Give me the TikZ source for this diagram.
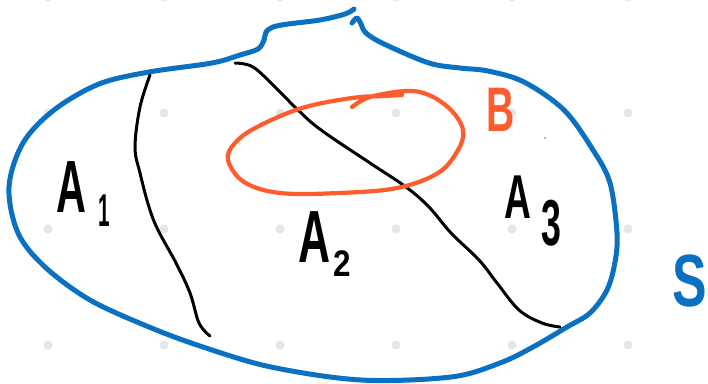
\documentclass[tikz,border=0pt]{standalone}
\usepackage{fontspec}
\setmainfont{Liberation Sans}
\definecolor{penblue}{HTML}{0A70C2}
\definecolor{penorange}{HTML}{FF5C2E}
\definecolor{griddot}{HTML}{E6E6E6}
\begin{document}
\begin{tikzpicture}[x=1pt,y=-1pt,
  blueline/.style={draw=penblue,line width=5pt,line cap=round,line join=round},
  blackline/.style={draw=black,line width=3pt,line cap=round,line join=round},
  orangeline/.style={draw=penorange,line width=4.2pt,line cap=round,line join=round},
  lbl/.style={inner sep=0pt,outer sep=0pt}]
\useasboundingbox[fill=white] (0,0) rectangle (708,383);
% grid dots
\foreach \gx in {48,164,280,396,512,628}
  \foreach \gy in {-3,113,229,345}
    \fill[griddot] (\gx,\gy) circle (4.6);
% outline S
\draw[blueline] plot[smooth,tension=0.55] coordinates {
  (352,23) (357,18) (361,24) (366,33) (384,44) (429,63) (460,68) (488,71)
  (524,82) (564,110) (593,150) (610,183) (617,233) (615,262) (607,290)
  (590,313) (567,327) (533,347) (500,363) (451,377) (361,380) (271,367)
  (203,347) (149,327) (90,300) (45,267) (18,233) (9,187) (23,143) (54,110)
  (99,84) (149,72) (212,63) (240,55) (258,49) (264,40) (266,32) (273,27)
  (288,24) (320,20) (345,14) (354,9)};
% partition lines
\draw[blackline] plot[smooth,tension=0.6] coordinates {
  (150,75) (140,107) (135,147) (140,173) (149,207) (158,230) (176,263)
  (190,293) (199,323) (210,336)};
\draw[blackline] plot[smooth,tension=0.6] coordinates {
  (235,63) (253,67) (275,87) (298,110) (321,130) (370,163) (406,187)
  (429,207) (451,233) (479,260) (497,283) (519,310) (542,323) (560,327)};
% event B
\draw[orangeline] plot[smooth,tension=0.6] coordinates {
  (352,107) (370,97) (406,91) (429,95) (451,110) (463,130) (458,150)
  (438,173) (397,188) (339,193) (280,193) (244,182) (228,160) (235,143)
  (257,127) (302,108) (352,98) (384,96) (402,95)};
\fill[penorange] (545,138) circle (1);
% labels
\node[lbl,font=\bfseries\fontsize{74}{74}\selectfont,xscale=0.56] (a1) at (71,187) {A};
\node[lbl,font=\bfseries\fontsize{46}{46}\selectfont,xscale=0.45] (a1s) at (104,211) {1};
\node[lbl,font=\bfseries\fontsize{74}{74}\selectfont,xscale=0.6] (a2) at (315,237) {A};
\node[lbl,font=\bfseries\fontsize{37}{37}\selectfont,xscale=0.85] (a2s) at (342,264) {2};
\node[lbl,font=\bfseries\fontsize{62}{62}\selectfont,xscale=0.6] (a3) at (518,197) {A};
\node[lbl,font=\bfseries\fontsize{65}{65}\selectfont,xscale=0.55] (a3s) at (551,223) {3};
\node[lbl,font=\bfseries\fontsize{63}{63}\selectfont,xscale=0.62,text=penorange] (b) at (501,110) {B};
\node[lbl,font=\bfseries\fontsize{74}{74}\selectfont,xscale=0.7,text=penblue] (s) at (690,281) {S};
\end{tikzpicture}
\end{document}
